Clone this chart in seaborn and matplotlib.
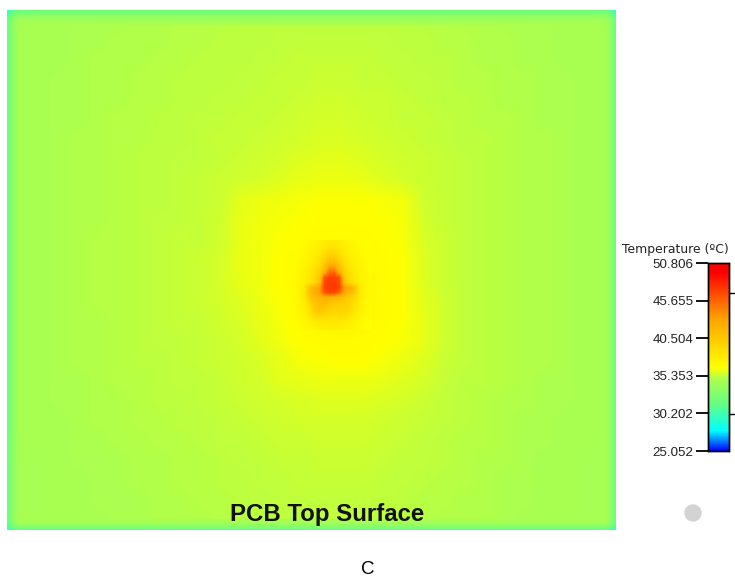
import numpy as np
import seaborn as sns
import matplotlib.pyplot as plt
from matplotlib.colors import LinearSegmentedColormap
from matplotlib.patches import Ellipse

T_MIN = 25.052
T_MAX = 50.806
bar_ticks = [25.052, 30.202, 35.353, 40.504, 45.655, 50.806]
bar_labels = ['25.052', '30.202', '35.353', '40.504', '45.655', '50.806']
bar_right_marks = [30.1, 46.7]
title_text = 'PCB Top Surface'

# colour stops of the legend bar
stop_pos = [0.0, 0.107, 0.25, 0.38, 0.446, 0.7, 0.95, 1.0]
stop_col = ['#0000ff', '#00ffff', '#64ff82', '#aaff50', '#ffff00', '#ffa500', '#ff0000', '#ff0000']

# whole board, 30 columns x 26 rows
board_temps = [
    [34.7,34.8,34.8,34.9,34.9,34.9,35.0,35.0,35.1,35.1,35.1,35.2,35.2,35.2,35.2,35.2,35.2,35.2,35.2,35.2,35.1,35.1,35.0,35.0,34.9,34.9,34.9,34.8,34.8,34.7],
    [34.7,34.8,34.8,34.9,34.9,35.0,35.0,35.0,35.1,35.1,35.2,35.2,35.2,35.3,35.3,35.3,35.3,35.3,35.3,35.2,35.2,35.1,35.1,35.0,35.0,34.9,34.9,34.8,34.8,34.7],
    [34.7,34.8,34.8,34.9,35.0,35.0,35.0,35.1,35.1,35.2,35.2,35.2,35.3,35.3,35.4,35.4,35.4,35.4,35.3,35.3,35.2,35.2,35.1,35.0,35.0,34.9,34.9,34.8,34.8,34.7],
    [34.7,34.8,34.9,34.9,35.0,35.0,35.1,35.1,35.2,35.2,35.2,35.3,35.3,35.4,35.4,35.5,35.5,35.4,35.4,35.3,35.3,35.2,35.1,35.1,35.0,35.0,34.9,34.9,34.8,34.7],
    [34.7,34.8,34.9,34.9,35.0,35.0,35.1,35.1,35.2,35.2,35.3,35.3,35.4,35.4,35.5,35.6,35.6,35.5,35.5,35.4,35.3,35.2,35.2,35.1,35.0,35.0,34.9,34.9,34.8,34.7],
    [34.7,34.8,34.9,34.9,35.0,35.1,35.1,35.2,35.2,35.3,35.3,35.4,35.4,35.5,35.6,35.7,35.7,35.6,35.5,35.4,35.4,35.3,35.2,35.1,35.1,35.0,34.9,34.9,34.8,34.7],
    [34.7,34.8,34.9,35.0,35.0,35.1,35.1,35.2,35.2,35.3,35.4,35.4,35.5,35.6,35.7,35.8,35.8,35.7,35.6,35.5,35.4,35.3,35.2,35.2,35.1,35.0,35.0,34.9,34.8,34.7],
    [34.7,34.8,34.9,35.0,35.0,35.1,35.2,35.2,35.3,35.3,35.4,35.5,35.6,35.7,35.9,36.0,36.0,35.9,35.7,35.6,35.5,35.4,35.3,35.2,35.1,35.0,35.0,34.9,34.8,34.7],
    [34.7,34.8,34.9,35.0,35.0,35.1,35.2,35.2,35.3,35.4,35.5,35.6,35.7,35.9,36.1,36.2,36.2,36.1,35.9,35.7,35.5,35.4,35.3,35.2,35.1,35.0,35.0,34.9,34.8,34.7],
    [34.7,34.8,34.9,35.0,35.0,35.1,35.2,35.2,35.3,35.4,35.5,36.0,36.2,36.3,36.4,36.5,36.5,36.5,36.4,36.3,35.6,35.4,35.3,35.2,35.1,35.0,35.0,34.9,34.8,34.7],
    [34.7,34.8,34.9,35.0,35.0,35.1,35.2,35.3,35.3,35.4,35.6,36.1,36.3,36.4,36.5,36.6,36.6,36.6,36.5,36.4,35.7,35.4,35.3,35.2,35.1,35.0,35.0,34.9,34.8,34.7],
    [34.7,34.8,34.9,35.0,35.1,35.1,35.2,35.3,35.4,35.4,35.6,36.1,36.3,36.5,36.7,36.8,36.9,36.8,36.6,36.4,35.8,35.5,35.3,35.2,35.1,35.0,35.0,34.9,34.8,34.7],
    [34.7,34.8,34.9,35.0,35.1,35.1,35.2,35.3,35.4,35.5,35.7,36.1,36.3,36.6,36.9,37.1,37.3,37.0,36.7,36.5,35.9,35.5,35.3,35.2,35.1,35.0,35.0,34.9,34.8,34.7],
    [34.7,34.8,34.9,35.0,35.1,35.1,35.2,35.3,35.4,35.5,35.7,36.1,36.3,36.6,37.0,37.3,37.6,37.2,36.8,36.5,35.9,35.5,35.3,35.2,35.1,35.0,35.0,34.9,34.8,34.7],
    [34.7,34.8,34.9,35.0,35.1,35.1,35.2,35.3,35.4,35.5,35.7,35.9,36.2,36.5,36.9,37.3,37.5,37.2,36.8,36.5,36.0,35.6,35.3,35.2,35.1,35.0,35.0,34.9,34.8,34.7],
    [34.7,34.8,34.9,35.0,35.0,35.1,35.2,35.3,35.4,35.4,35.6,35.8,36.1,36.4,36.8,37.1,37.3,37.1,36.8,36.5,36.1,35.6,35.3,35.2,35.1,35.0,35.0,34.9,34.8,34.7],
    [34.7,34.8,34.9,35.0,35.0,35.1,35.2,35.3,35.3,35.4,35.5,35.7,36.0,36.3,36.6,36.8,36.9,36.8,36.6,36.4,36.1,35.6,35.3,35.2,35.1,35.0,35.0,34.9,34.8,34.7],
    [34.7,34.8,34.9,35.0,35.0,35.1,35.2,35.2,35.3,35.4,35.5,35.6,35.8,36.1,36.4,36.5,36.6,36.6,36.4,36.2,35.9,35.5,35.3,35.2,35.1,35.0,35.0,34.9,34.8,34.7],
    [34.7,34.8,34.9,34.9,35.0,35.1,35.1,35.2,35.3,35.3,35.4,35.6,35.7,36.0,36.1,36.2,36.2,36.2,36.1,35.9,35.7,35.4,35.2,35.2,35.1,35.0,34.9,34.9,34.8,34.7],
    [34.7,34.8,34.9,34.9,35.0,35.0,35.1,35.2,35.2,35.3,35.4,35.5,35.6,35.7,35.8,35.9,35.9,35.9,35.8,35.7,35.5,35.3,35.2,35.1,35.0,35.0,34.9,34.9,34.8,34.7],
    [34.7,34.8,34.8,34.9,35.0,35.0,35.1,35.1,35.2,35.2,35.3,35.4,35.5,35.6,35.7,35.7,35.7,35.7,35.6,35.5,35.4,35.3,35.2,35.1,35.0,34.9,34.9,34.8,34.8,34.7],
    [34.7,34.8,34.8,34.9,34.9,35.0,35.0,35.1,35.1,35.2,35.3,35.3,35.4,35.5,35.5,35.6,35.6,35.6,35.5,35.4,35.3,35.2,35.1,35.1,35.0,34.9,34.9,34.8,34.8,34.7],
    [34.7,34.7,34.8,34.9,34.9,34.9,35.0,35.0,35.1,35.1,35.2,35.3,35.3,35.4,35.4,35.5,35.5,35.5,35.4,35.3,35.3,35.2,35.1,35.0,35.0,34.9,34.8,34.8,34.7,34.7],
    [34.7,34.7,34.8,34.8,34.9,34.9,35.0,35.0,35.1,35.1,35.2,35.2,35.3,35.3,35.4,35.4,35.4,35.4,35.3,35.3,35.2,35.1,35.1,35.0,34.9,34.9,34.8,34.8,34.7,34.7],
    [34.7,34.7,34.8,34.8,34.9,34.9,34.9,35.0,35.0,35.1,35.1,35.2,35.2,35.3,35.3,35.3,35.3,35.3,35.3,35.2,35.1,35.1,35.0,35.0,34.9,34.9,34.8,34.8,34.7,34.7],
    [34.7,34.7,34.8,34.8,34.8,34.9,34.9,35.0,35.0,35.0,35.1,35.1,35.2,35.2,35.2,35.3,35.3,35.2,35.2,35.2,35.1,35.0,35.0,35.0,34.9,34.8,34.8,34.7,34.7,34.7],
]

# hot spot around the chip, 16 columns x 18 rows
core_temps = [
    [36.6,36.7,36.8,37.0,37.2,37.5,37.8,38.1,38.1,37.8,37.5,37.2,37.0,36.8,36.7,36.6],
    [36.6,36.8,36.9,37.1,37.4,37.7,38.1,38.6,38.6,38.1,37.7,37.4,37.1,36.9,36.8,36.6],
    [36.7,36.8,37.0,37.3,37.6,38.0,38.6,39.4,39.4,38.6,38.0,37.6,37.3,37.0,36.8,36.7],
    [36.7,36.9,37.1,37.4,37.8,38.4,39.3,40.4,40.4,39.3,38.4,37.8,37.4,37.1,36.9,36.7],
    [36.7,37.0,37.2,37.6,38.1,38.8,40.2,41.8,41.8,40.2,38.8,38.1,37.6,37.2,37.0,36.7],
    [36.8,37.0,37.3,37.8,38.4,39.3,41.2,43.5,43.5,41.2,39.3,38.4,37.8,37.3,37.0,36.8],
    [36.8,37.1,37.5,38.0,38.7,40.0,42.5,45.5,45.5,42.5,40.0,38.7,38.0,37.5,37.1,36.8],
    [36.9,37.1,37.6,38.2,39.0,40.6,46.2,47.0,47.0,46.2,40.6,39.0,38.2,37.6,37.1,36.9],
    [36.9,37.2,37.7,38.4,39.3,41.2,46.6,47.2,47.2,46.6,41.2,39.4,38.4,37.7,37.2,36.9],
    [37.0,37.3,38.0,40.8,42.2,43.2,46.8,47.2,47.2,46.8,43.5,42.6,41.2,38.2,37.4,37.0],
    [37.0,37.3,38.2,41.2,42.2,43.2,46.2,46.8,46.8,45.4,42.8,41.8,40.4,38.3,37.4,37.0],
    [36.9,37.3,38.1,40.4,41.4,41.8,42.3,42.3,41.9,41.4,40.9,40.1,39.2,38.0,37.3,36.9],
    [36.9,37.2,37.9,39.4,40.8,41.4,41.4,41.2,40.7,40.4,40.2,39.7,38.9,37.9,37.2,36.9],
    [36.8,37.2,37.7,38.8,40.4,41.0,40.8,40.3,39.9,39.9,39.8,39.3,38.6,37.7,37.2,36.8],
    [36.8,37.1,37.5,38.5,39.9,40.4,40.1,39.6,39.3,39.4,39.3,38.9,38.2,37.5,37.1,36.8],
    [36.7,37.0,37.3,37.9,38.8,39.0,38.9,38.7,38.6,38.7,38.6,38.3,37.8,37.3,37.0,36.7],
    [36.6,36.8,37.1,37.4,37.8,38.0,38.1,38.1,38.1,38.1,38.0,37.7,37.4,37.1,36.8,36.6],
    [36.6,36.7,36.9,37.1,37.3,37.5,37.6,37.7,37.7,37.6,37.5,37.3,37.1,36.9,36.7,36.6],
]

# falloff across the board rim, outermost value first
rim_temps = [32.0, 33.0, 33.9, 34.5, 34.8]

# top left corner of the rim, the other three are mirrored from it
corner_temps = [
    [30.0, 30.8, 31.5, 31.9, 32.0],
    [30.8, 31.7, 32.4, 32.9, 33.0],
    [31.5, 32.4, 33.2, 33.7, 33.9],
    [31.9, 32.9, 33.7, 34.2, 34.5],
    [32.0, 33.0, 33.9, 34.5, 34.8],
]

W, H = 735, 586


def px_axes(fig, x0, y0, x1, y1):
    return fig.add_axes([x0 / W, 1 - y1 / H, (x1 - x0) / W, (y1 - y0) / H])


def smooth_heatmap(ax, values, cmap, cbar_ax=None):
    values = np.array(values)
    sns.heatmap(values, ax=ax, cmap=cmap, vmin=T_MIN, vmax=T_MAX, xticklabels=False,
                yticklabels=False, cbar=cbar_ax is not None, cbar_ax=cbar_ax)
    ny, nx = values.shape
    # same cells, only shaded smoothly
    ax.imshow(values, cmap=cmap, vmin=T_MIN, vmax=T_MAX, extent=(0, nx, ny, 0),
              interpolation='bilinear', aspect='auto', zorder=3)
    ax.set_xlim(0, nx)
    ax.set_ylim(ny, 0)
    ax.axis('off')


sns.set_theme(style='white')
plt.rcParams['font.family'] = ['DejaVu Sans']

cmap = LinearSegmentedColormap.from_list('temp', list(zip(stop_pos, stop_col)), N=512)

fig = plt.figure(figsize=(W / 100, H / 100), dpi=100)

ax = px_axes(fig, 7, 10, 616, 530)
cax = px_axes(fig, 708, 263, 729, 451)
smooth_heatmap(ax, board_temps, cmap, cbar_ax=cax)

smooth_heatmap(px_axes(fig, 292, 240, 372, 330), core_temps, cmap)

# rim strips
rim = np.array(rim_temps)
smooth_heatmap(px_axes(fig, 22, 10, 603, 25), rim.reshape(-1, 1), cmap)
smooth_heatmap(px_axes(fig, 22, 519, 603, 530), rim[::-1].reshape(-1, 1), cmap)
smooth_heatmap(px_axes(fig, 7, 25, 22, 519), rim.reshape(1, -1), cmap)
smooth_heatmap(px_axes(fig, 603, 25, 616, 519), rim[::-1].reshape(1, -1), cmap)

# rim corners
corner = np.array(corner_temps)
smooth_heatmap(px_axes(fig, 7, 10, 22, 25), corner, cmap)
smooth_heatmap(px_axes(fig, 603, 10, 616, 25), corner[:, ::-1], cmap)
smooth_heatmap(px_axes(fig, 7, 519, 22, 530), corner[::-1], cmap)
smooth_heatmap(px_axes(fig, 603, 519, 616, 530), corner[::-1, ::-1], cmap)

cax.yaxis.set_ticks_position('left')
cax.set_yticks(bar_ticks, labels=bar_labels, family=['Liberation Sans', 'DejaVu Sans'])
cax.set_yticks(bar_right_marks, minor=True)
cax.tick_params(axis='y', which='major', left=True, right=False, length=8.5, width=1.3,
                color='black', labelsize=9.6, pad=2, labelcolor='#222222')
cax.tick_params(axis='y', which='minor', left=False, right=True, length=4, width=1.0, color='black')
for spine in cax.spines.values():
    spine.set_visible(True)
    spine.set_color('black')
    spine.set_linewidth(1.0)

fig.text(675 / W, 1 - 249 / H, 'Temperature (\u00baC)', ha='center', va='center', fontsize=8.9, color='#222222')
fig.text(327 / W, 1 - 515 / H, title_text, ha='center', va='center', fontsize=17.3, fontweight='bold',
         family=['Liberation Sans', 'DejaVu Sans'], color='#111111')
fig.text(368 / W, 1 - 569 / H, 'C', ha='center', va='center', fontsize=13.5,
         family=['Liberation Sans', 'DejaVu Sans'], color='black')
fig.add_artist(Ellipse((693 / W, 1 - 513 / H), 16 / W, 16 / H, transform=fig.transFigure, color='#d3d3d3'))

fig.savefig('out.png', dpi=100)
